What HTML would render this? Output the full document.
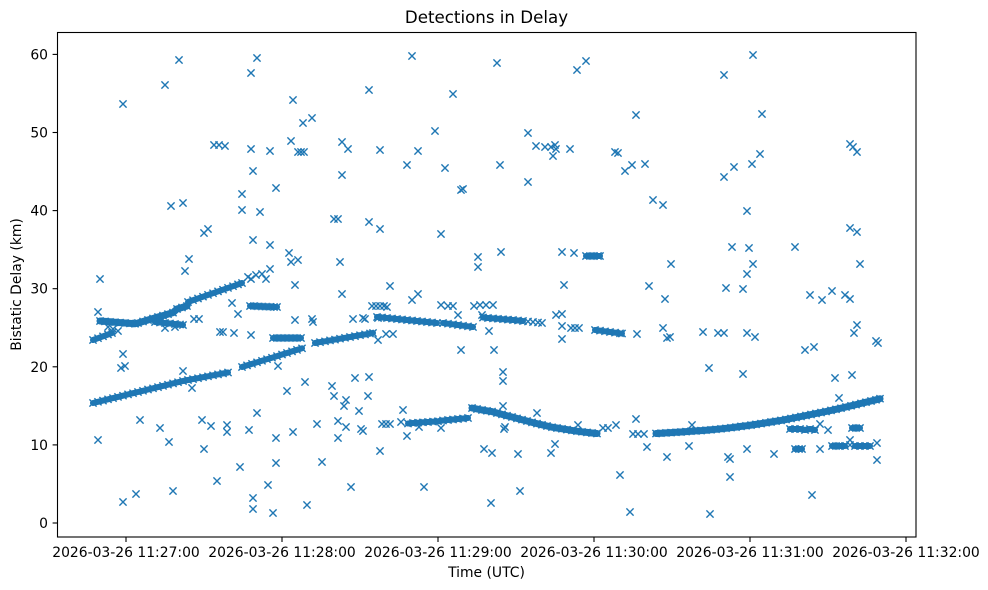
<!DOCTYPE html>
<html><head><meta charset="utf-8"><style>
html,body{margin:0;padding:0;background:#fff;width:988px;height:590px;overflow:hidden}
svg{display:block}
text{font-family:"DejaVu Sans","Liberation Sans",sans-serif;fill:#000}
.o{fill:none;stroke:none;marker-start:url(#m);marker-mid:url(#m);marker-end:url(#m)}
.b{fill:none;stroke:#1f77b4;stroke-width:6;stroke-linejoin:round;stroke-linecap:round;marker-start:url(#m);marker-mid:url(#m);marker-end:url(#m)}
.w{stroke-width:7}
</style></head><body>
<svg width="988" height="590" viewBox="0 0 988 590" xmlns="http://www.w3.org/2000/svg">
<defs>
<marker id="m" viewBox="-5 -5 10 10" markerWidth="10" markerHeight="10" refX="0" refY="0" markerUnits="userSpaceOnUse" orient="0" overflow="visible">
<path d="M-3.6,-3.6L3.6,3.6M-3.6,3.6L3.6,-3.6" stroke="#1f77b4" stroke-width="1.4" fill="none"/>
</marker>
</defs>
<rect x="0" y="0" width="988" height="590" fill="#fff"/>

<!-- bands -->
<polyline class="b" points="93,403 98,401.8 103,400.6 108,399.3 113,398.1 118,396.9 123,395.7 128,394.4 133,393.2 138,392 143,390.8 148,389.5 153,388.3 158,387.1 163,385.9 168,384.7 173,383.4 178,382.2 183,381 188,380 193,379.1 198,378.2 203,377.2 208,376.3 213,375.3 218,374.4 223,373.4 228,372.5"/>
<polyline class="b" points="242,367 247,365.4 252,363.9 257,362.3 262,360.8 267,359.2 272,357.7 277,356.1 282,354.5 287,353 292,351.4 297,349.9 302,348.3"/>
<polyline class="b" points="315,343 320,342.1 325,341.3 330,340.4 335,339.6 340,338.7 345,337.8 350,337 355,336.1 360,335.2 365,334.4 370,333.5 373,333"/>
<polyline class="b" points="93,340 98,338.2 103,336.3 108,334.5 112,333"/>
<polyline class="b w" points="100,321 105,321.4 110,321.8 115,322.2 120,322.6 125,323 130,323.4 135,323.8 138,323 143,321.5 148,320 153,318.5 158,317 163,315.6 168,314.1 173,312.6 177,309 182,307.5 187,306"/>
<polyline class="b" points="155,322 160,322.5 165,323 170,323.5 175,324 180,324.5 183,325"/>
<polyline class="b" points="188,302 193,300.2 198,298.5 203,296.7 208,294.9 213,293.2 218,291.4 223,289.7 228,287.9 233,286.2 238,284.4 242,283"/>
<polyline class="b" points="250,306 254,306 258,306.3 262,306.5 266,306.6 270,306.8 274,307 277,307"/>
<polyline class="b" points="273,338 277,338 281,338 285,338 289,338 293,338 297,338 301,338"/>
<polyline class="b" points="377,317 382,317.5 387,318 392,318.5 397,319 402,319.5 407,320 412,320.5 417,321 422,321.5 427,322 432,322.5 437,323"/>
<polyline class="b" points="443,323 448,323.7 453,324.3 458,325 463,325.7 468,326.3 473,327"/>
<polyline class="b" points="483,317.5 488,318 493,318.4 498,318.8 503,319.2 508,319.6 513,320 518,320.5 523,321"/>
<polyline class="o" points="528,321.5 533,322 538,322.5 542,323"/>
<polyline class="b" points="595,330 600,330.6 605,331.3 610,332 615,332.6 620,333.3 622,333.5"/>
<polyline class="b" points="586,256 590,256 594,256 598,256 600,256"/>
<polyline class="b" points="408,423.5 413,423 418,422.7 423,422.3 428,422 433,421.6 438,421.2 443,420.5 448,420 453,419.5 458,419 463,418.5 468,418"/>
<polyline class="b w" points="472,408 477,409 482,410 487,410.8 492,411.6 497,413 502,414.4 507,415.7 512,417 517,418.4 522,419.7 527,421 532,422.4 537,423.6 542,424.8 547,426 552,427.2 557,428 562,428.8 567,429.6 572,430.4 577,431.2 582,431.8 587,432.4 592,433 597,433.5"/>
<polyline class="b w" points="656,433.5 661,433.2 666,432.9 671,432.6 676,432.3 681,432 686,431.6 691,431.2 696,430.9 701,430.6 706,430.2 711,429.8 716,429.3 721,428.8 726,428.3 731,427.7 736,427.1 741,426.4 746,425.8 751,425.1 756,424.4 761,423.6 766,422.8 771,422 776,421.2 781,420.4 786,419.5 791,418.5 796,417.5 801,416.5 806,415.5 811,414.5 816,413.5 821,412.5 826,411.5 831,410.4 836,409.3 841,408.2 846,407 851,405.8 856,404.6 861,403.4 866,402.2 871,401 876,399.8 880,398.7"/>
<polyline class="b" points="790,429 795,429 800,429 805,430 810,429 815,430"/>
<polyline class="b" points="852,428 856,428 860,428"/>
<polyline class="b" points="832,446 836,446 840,446 845,446"/>
<polyline class="b" points="855,446 860,446 865,446 870,446"/>
<polyline class="b" points="795,449 799,449 802,449"/>

<!-- scattered detections -->
<polyline class="o" points="179,60 257,58 251,73 165,85 123,104 214,145 219,145 225,146 251,149 270,151 253,171 276,188 242,194 171,206 183,203 242,210 260,212 204,233 208,229 253,240 270,245 189,259 185,271 100,279 270,269 251,279 266,279 98,312 232,303 238,314 220,332 223,332 234,333 251,335 194,319 199,319 123,354 121,368 125,366 183,371 192,388 257,413 140,420 160,428 169,442 98,440 202,420 211,426 227,425 227,432 249,430 276,438 204,449 240,467 276,463 217,481 268,485 123,502 136,494 173,491 253,498 253,509 273,513 278,366 108,327 113,329 118,331 165,328 175,327 248,277 256,275 262,274"/>
<polyline class="o" points="412,56 369,90 453,94 293,100 303,123 312,118 435,131 291,141 298,152 301,152 304,152 342,142 348,149 380,150 418,151 407,165 445,168 342,175 461,190 463,189 334,219 338,219 369,222 380,229 441,234 289,253 291,262 298,260 340,262 478,257 478,267 295,285 342,294 390,286 412,300 418,294 372,306 376,306 380,306 384,306 387,307 441,305 448,306 453,306 474,306 480,305 486,305 493,305 458,315 482,315 295,320 312,319 313,322 353,319 363,318 365,319 378,318 378,340 386,334 393,334 489,331 461,350 494,350 305,382 287,391 332,386 334,396 346,400 344,406 355,378 369,377 368,396 359,411 403,410 317,424 293,432 338,421 346,427 338,438 361,429 363,431 382,424 386,424 390,424 401,422 407,436 419,427 441,428 380,451 322,462 484,449 492,453 351,487 424,487 307,505 491,503"/>
<polyline class="o" points="497,63 577,70 586,61 636,115 528,133 536,146 545,147 551,147 555,145 556,149 553,156 570,149 615,152 618,153 625,171 632,165 645,164 500,165 528,182 653,200 663,205 501,252 562,252 574,253 564,285 649,286 665,299 671,264 556,315 562,314 562,326 571,328 575,328 579,328 562,339 637,334 663,328 667,338 670,337 703,332 503,372 503,381 503,406 537,413 505,427 504,429 578,425 636,419 633,434 638,434 644,434 692,425 518,454 551,453 555,444 647,447 667,457 689,446 620,475 520,491 630,512 710,514 709,368 603,428 608,428 616,425"/>
<polyline class="o" points="753,55 724,75 762,114 850,144 853,147 857,152 760,154 752,164 734,167 724,177 747,211 850,228 857,232 732,247 749,248 795,247 753,264 747,274 860,264 726,288 743,289 810,295 822,300 832,291 845,295 850,299 857,325 854,333 718,333 724,333 747,333 755,337 805,350 814,347 876,341 878,343 743,374 835,378 852,375 839,398 820,424 828,430 728,457 730,459 747,449 774,454 820,449 850,440 850,445 877,443 877,460 730,477 812,495"/>

<!-- axes frame -->
<rect x="57.5" y="32.5" width="858.5" height="504.5" fill="none" stroke="#000" stroke-width="1.1"/>

<!-- y ticks -->
<g stroke="#000" stroke-width="1.1">
<line x1="52.6" y1="523" x2="57.5" y2="523"/>
<line x1="52.6" y1="444.9" x2="57.5" y2="444.9"/>
<line x1="52.6" y1="366.8" x2="57.5" y2="366.8"/>
<line x1="52.6" y1="288.7" x2="57.5" y2="288.7"/>
<line x1="52.6" y1="210.6" x2="57.5" y2="210.6"/>
<line x1="52.6" y1="132.5" x2="57.5" y2="132.5"/>
<line x1="52.6" y1="54.4" x2="57.5" y2="54.4"/>
</g>
<g font-size="13.9" text-anchor="end">
<text x="48" y="528">0</text>
<text x="48" y="449.9">10</text>
<text x="48" y="371.8">20</text>
<text x="48" y="293.7">30</text>
<text x="48" y="215.6">40</text>
<text x="48" y="137.5">50</text>
<text x="48" y="59.4">60</text>
</g>

<!-- x ticks -->
<g stroke="#000" stroke-width="1.1">
<line x1="126" y1="537" x2="126" y2="542"/>
<line x1="282" y1="537" x2="282" y2="542"/>
<line x1="438" y1="537" x2="438" y2="542"/>
<line x1="594" y1="537" x2="594" y2="542"/>
<line x1="750" y1="537" x2="750" y2="542"/>
<line x1="906" y1="537" x2="906" y2="542"/>
</g>
<g font-size="13.9" text-anchor="middle">
<text x="126" y="557">2026-03-26 11:27:00</text>
<text x="282" y="557">2026-03-26 11:28:00</text>
<text x="438" y="557">2026-03-26 11:29:00</text>
<text x="594" y="557">2026-03-26 11:30:00</text>
<text x="750" y="557">2026-03-26 11:31:00</text>
<text x="906" y="557">2026-03-26 11:32:00</text>
</g>

<text x="486.5" y="577" font-size="13.9" text-anchor="middle">Time (UTC)</text>
<text transform="translate(21,284.5) rotate(-90)" x="0" y="0" font-size="13.9" text-anchor="middle">Bistatic Delay (km)</text>
<text x="486.5" y="23" font-size="16.67" text-anchor="middle">Detections in Delay</text>
</svg>
</body></html>
